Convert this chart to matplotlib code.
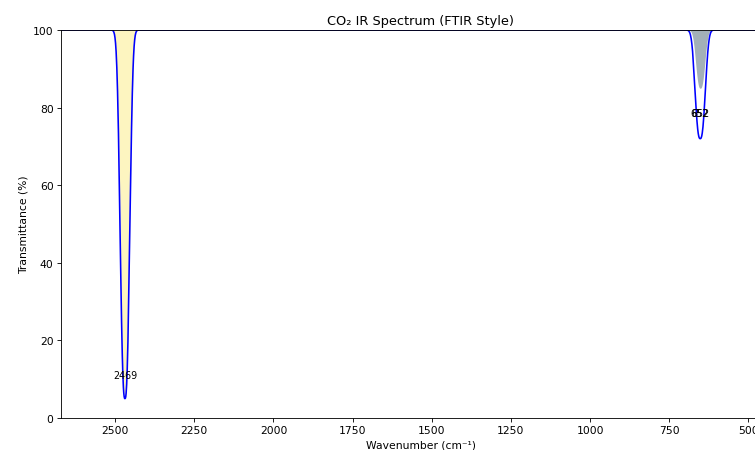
import numpy as np
import matplotlib
matplotlib.use("Agg")
import matplotlib.pyplot as plt

# Data
peak_centers = [2469, 652]          # cm^-1
peak_depths = [95.0, 28.0]          # % absorption at centre
peak_widths = [18.7, 20.0]          # band half-width parameter, cm^-1
band_shape_power = 2.6              # flat-sided band profile exponent
peak_labels = ["2469", "652"]
label_T = [11.0, 78.5]
fill_colors = ["#fdf5c0", "#a3b0b8"]
bend_fill_depth = 15.0              # shallower shaded component at 652


def band(x, c, w):
    return np.exp(-(np.abs(x - c) / w) ** band_shape_power)


wn = np.linspace(400, 2700, 4000)
T = np.full_like(wn, 100.0)
for c, d, s in zip(peak_centers, peak_depths, peak_widths):
    T -= d * band(wn, c, s)

DPI = 77
fig = plt.figure(figsize=(755 / DPI, 451 / DPI), dpi=DPI)
ax = fig.add_axes([61 / 755, 32 / 451, (780 - 61) / 755, (419 - 31) / 451])

m1 = np.abs(wn - peak_centers[0]) < 80
T1 = 100 - peak_depths[0] * band(wn, peak_centers[0], peak_widths[0])
ax.fill_between(wn[m1], T1[m1], 100, color=fill_colors[0], lw=0, zorder=1)
m2 = np.abs(wn - peak_centers[1]) < 80
T2 = 100 - bend_fill_depth * band(wn, peak_centers[1], peak_widths[1] * 0.9)
ax.fill_between(wn[m2], T2[m2], 100, color=fill_colors[1], lw=0, zorder=1)

ax.plot(wn, T, color="blue", lw=1.5, zorder=2)

ax.text(peak_centers[0], label_T[0], peak_labels[0], ha="center", va="center", fontsize=9, zorder=4)
for dx in (0, 1.5):
    ax.text(peak_centers[1] + dx, label_T[1], peak_labels[1], ha="center", va="center", fontsize=9, zorder=4)

ax.set_xlim(2671, 400)
ax.set_ylim(0, 100)
ax.set_xticks([2500, 2250, 2000, 1750, 1500, 1250, 1000, 750, 500])
ax.set_yticks([0, 20, 40, 60, 80, 100])
ax.set_xlabel("Wavenumber (cm⁻¹)")
ax.set_ylabel("Transmittance (%)")
ax.set_title("CO₂ IR Spectrum (FTIR Style)")

fig.savefig("out.png", dpi=DPI)
